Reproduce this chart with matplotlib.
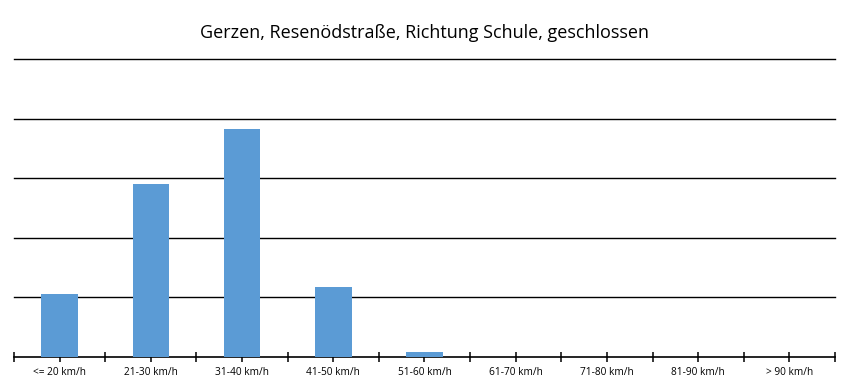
import matplotlib
matplotlib.use("Agg")
import matplotlib.pyplot as plt
import numpy as np

categories = ["<= 20 km/h", "21-30 km/h", "31-40 km/h", "41-50 km/h", "51-60 km/h",
              "61-70 km/h", "71-80 km/h", "81-90 km/h", "> 90 km/h"]
values = [106, 291, 382, 118, 9, 0, 0, 0, 0]
title = "Gerzen, Resenödstraße, Richtung Schule, geschlossen"

plt.rcParams['font.family'] = ['Open Sans', 'DejaVu Sans']
fig = plt.figure(figsize=(8.57, 3.89), dpi=100)
W, H = 857, 389
ax = fig.add_axes([14 / W, 1 - 357 / H, (835 - 14) / W, (357 - 59) / H])

x = np.arange(len(categories))
ax.bar(x, values, width=0.4, color="#5B9BD5", zorder=3)
ax.set_xlim(-0.5, len(categories) - 0.5)
ax.set_ylim(0, 500)
ax.set_yticks([100, 200, 300, 400, 500])
ax.yaxis.grid(True, color="black", linewidth=1.0, zorder=0)
for gl in ax.get_ygridlines():
    gl.set_clip_on(False)
ax.tick_params(axis="y", left=False, labelleft=False)
for s in ["left", "right", "top"]:
    ax.spines[s].set_visible(False)
ax.spines["bottom"].set_linewidth(1.2)
ax.set_xticks(x)
ax.set_xticklabels(categories, fontsize=7.3)
ax.set_xticks(np.arange(-0.5, len(categories)), minor=True)
ax.tick_params(axis="x", which="both", direction="inout", length=7, width=1.1, pad=4)
fig.text((14 + 835) / 2 / W, 1 - 33 / H, title, ha="center", va="center", fontsize=13)
fig.savefig("out.png", dpi=100)
